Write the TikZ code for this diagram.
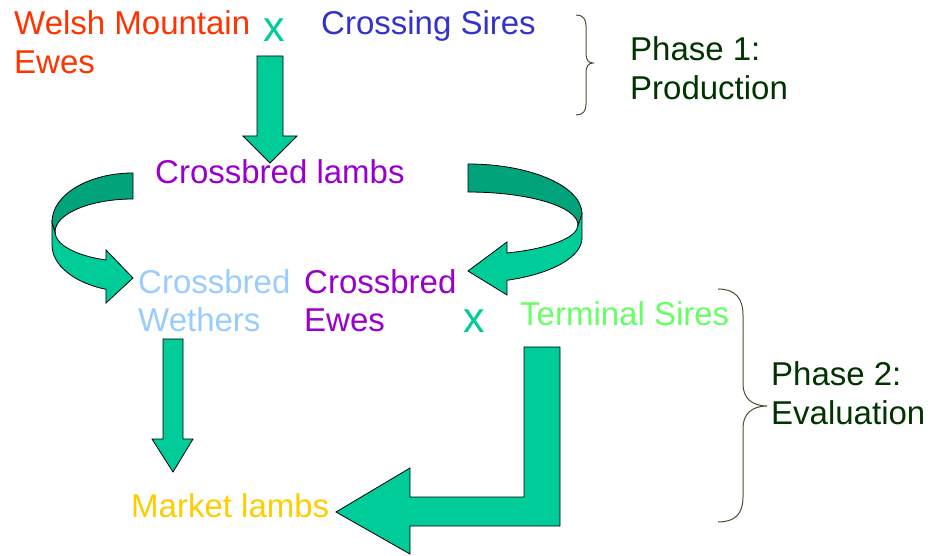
\documentclass[tikz,border=0pt]{standalone}
\usepackage{fontspec}
\setmainfont{Liberation Sans}
\usepackage{tikz}
\definecolor{ewered}{HTML}{FF3300}
\definecolor{sireblue}{HTML}{3333CC}
\definecolor{crossgreen}{HTML}{00CC99}
\definecolor{phasegreen}{HTML}{003300}
\definecolor{lambpurple}{HTML}{9900CC}
\definecolor{wetherblue}{HTML}{99CCFF}
\definecolor{termgreen}{HTML}{66FF66}
\definecolor{marketyellow}{HTML}{FFCC00}
\definecolor{arrowlight}{HTML}{00CC99}
\definecolor{arrowdark}{HTML}{00A37A}
\definecolor{bracecol}{HTML}{4D4D33}
\begin{document}
\begin{tikzpicture}[line join=miter,x=1pt,y=1pt,yscale=-1,
  txt/.style={anchor=base west,inner sep=0pt,align=left,font=\fontsize{33}{39}\selectfont},
  cross/.style={anchor=base west,inner sep=0pt,text=crossgreen,font=\fontsize{43}{43}\selectfont},
  blockarrow/.style={draw=black,line width=0.8pt,fill=arrowlight},
  backside/.style={draw=black,line width=0.8pt,fill=arrowdark},
  brc/.style={draw=bracecol,line width=1pt}]
\useasboundingbox (0,0) rectangle (930,556);
\node [txt,text=ewered] (wme) at (14,74) {Welsh Mountain\\Ewes};
\node [cross] (x1) at (263,42) {x};
\node [txt,text=sireblue] (cs) at (321,35) {Crossing Sires};
\node [txt,text=phasegreen] (phase1) at (630,100) {Phase 1:\\Production};
\node [txt,text=lambpurple] (lambs) at (155,184) {Crossbred lambs};
\node [txt,text=wetherblue] (wethers) at (138,332) {Crossbred\\Wethers};
\node [txt,text=lambpurple] (ewes) at (304,332) {Crossbred\\Ewes};
\node [cross] (x2) at (463,333) {x};
\node [txt,text=termgreen] (terminal) at (520,326) {Terminal Sires};
\node [txt,text=phasegreen] (phase2) at (771,424) {Phase 2:\\Evaluation};
\node [txt,text=marketyellow] (market) at (131,517) {Market lambs};
\draw [blockarrow] (257,56) -- (283,56) -- (283,136) -- (297,136) -- (270,163) -- (243,136) -- (257,136) -- cycle;
\draw [blockarrow] (52,222) -- (52,245) arc[start angle=180,end angle=109.5,x radius=81,y radius=47] -- (106,303) -- (133,278) -- (106,250) -- (106,260) arc[start angle=110.3,end angle=180,x radius=78,y radius=30] -- cycle;
\draw [backside] (133,173) arc[start angle=270,end angle=180,x radius=81,y radius=49] -- (55,232) arc[start angle=180,end angle=270,x radius=78,y radius=33] -- cycle;
\draw [blockarrow] (582,214) -- (582,238) arc[start angle=0,end angle=70,x radius=114,y radius=45] -- (507,295) -- (468,271) -- (507,242) -- (507,253) arc[start angle=69.2,end angle=0,x radius=110,y radius=30] -- cycle;
\draw [backside] (468,164) arc[start angle=270,end angle=360,x radius=114,y radius=50] -- (578,225) arc[start angle=0,end angle=-90,x radius=110,y radius=33] -- cycle;
\draw [blockarrow] (163,339) -- (183,339) -- (183,439) -- (193,439) -- (173,472) -- (152,439) -- (163,439) -- cycle;
\draw [blockarrow] (524,347) -- (560,347) -- (560,526) -- (410,526) -- (410,554) -- (336,512) -- (410,468) -- (410,497) -- (524,497) -- cycle;
\draw [brc] (576,15) .. controls (583,15) and (586,19) .. (586,26) -- (586,54) .. controls (586,59) and (588,63) .. (593,63) .. controls (588,63) and (586,67) .. (586,72) -- (586,104) .. controls (586,111) and (583,115) .. (576,115);
\draw [brc] (718,289) .. controls (735,289) and (743,298) .. (743,315) -- (743,384) .. controls (743,398) and (752,406) .. (767,406) .. controls (752,406) and (743,414) .. (743,428) -- (743,497) .. controls (743,514) and (735,522) .. (718,522);
\end{tikzpicture}
\end{document}
